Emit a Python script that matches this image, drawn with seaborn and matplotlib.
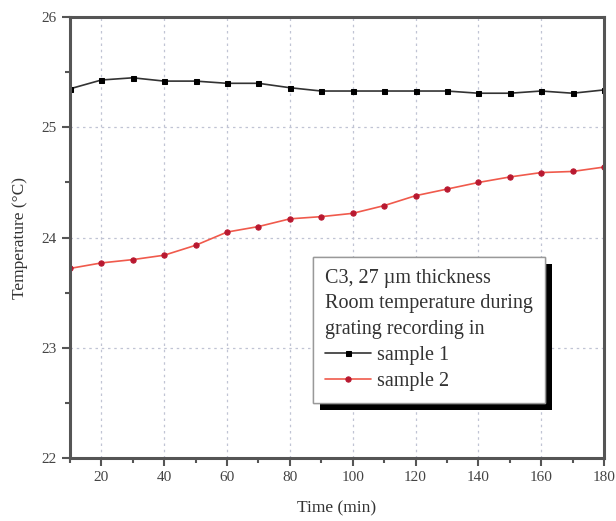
import numpy as np
import pandas as pd
import matplotlib
matplotlib.use("Agg")
import matplotlib.pyplot as plt
import matplotlib.patheffects as pe
from matplotlib.ticker import MultipleLocator
import seaborn as sns

# data
time_min = [10, 20, 30, 40, 50, 60, 70, 80, 90, 100, 110, 120, 130, 140, 150, 160, 170, 180]
sample1 = [25.35, 25.43, 25.45, 25.42, 25.42, 25.40, 25.40, 25.36, 25.33, 25.33,
           25.33, 25.33, 25.33, 25.31, 25.31, 25.33, 25.31, 25.34]
sample2 = [23.72, 23.77, 23.80, 23.84, 23.93, 24.05, 24.10, 24.17, 24.19, 24.22,
           24.29, 24.38, 24.44, 24.50, 24.55, 24.59, 24.60, 24.64]
x_ticks = [20, 40, 60, 80, 100, 120, 140, 160, 180]
y_ticks = [22, 23, 24, 25, 26]

df = pd.DataFrame({"time": time_min, "sample 1": sample1, "sample 2": sample2})

sns.set_style("white")
plt.rcParams["font.family"] = ["Liberation Serif", "DejaVu Serif"]

fig = plt.figure(figsize=(6.16, 5.21), dpi=100)
ax = fig.add_axes([0.1136, 0.121, 0.867, 0.846])

sns.lineplot(data=df, x="time", y="sample 1", ax=ax, color="#333333", lw=1.2,
             marker="s", markersize=3.6, markeredgecolor="black",
             markerfacecolor="black", label="sample 1")
sns.lineplot(data=df, x="time", y="sample 2", ax=ax, color="#f05a4c", lw=1.2,
             marker="o", markersize=3.8, markeredgecolor="#b81830",
             markerfacecolor="#b81830", label="sample 2")

ax.set_xlim(10, 180)
ax.set_ylim(22, 26)
ax.set_xticks(x_ticks)
ax.set_yticks(y_ticks)
ax.xaxis.set_minor_locator(MultipleLocator(10))
ax.yaxis.set_minor_locator(MultipleLocator(0.5))
ax.grid(True, which="major", linestyle=(0, (2, 3)), color="#c0c4d4", lw=0.9)

for s in ax.spines.values():
    s.set_color("#555555")
    s.set_linewidth(2.2)
ax.tick_params(which="major", direction="out", length=6, width=1.5, color="#555555",
               labelsize=11, labelcolor="#444444")
ax.tick_params(which="minor", direction="out", length=3.5, width=1.5, color="#555555")
ax.tick_params(left=True, bottom=True, which="both")

ax.set_xlabel("Time (min)", fontsize=12.5, color="#333333", labelpad=12)
ax.set_ylabel("Temperature (°C)", fontsize=12.5, color="#333333", labelpad=10)

leg = ax.legend(title="C3, 27 µm thickness\nRoom temperature during\ngrating recording in",
                loc="upper left", bbox_to_anchor=(0.455, 0.456), fontsize=14.5,
                title_fontsize=14.5, alignment="left", frameon=True, fancybox=False,
                handlelength=2.3, handletextpad=0.3, borderpad=0.6,
                labelspacing=0.35, borderaxespad=0)
leg.get_title().set_color("#333333")
leg.get_title().set_linespacing(1.45)
for t in leg.get_texts():
    t.set_color("#333333")
frame = leg.get_frame()
frame.set_edgecolor("#999999")
frame.set_linewidth(1.0)
frame.set_facecolor("white")
frame.set_alpha(1)
frame.set_path_effects([pe.withSimplePatchShadow(offset=(5, -5), shadow_rgbFace="black",
                                                  alpha=1.0), pe.Normal()])

fig.savefig("out.png", dpi=100)
